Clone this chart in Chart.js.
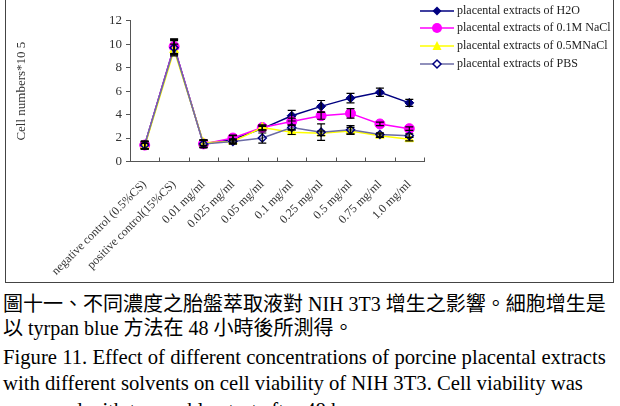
<!DOCTYPE html>
<html lang="zh-TW">
<head>
<meta charset="UTF-8">
<title>Figure 11</title>
<script src="https://cdn.jsdelivr.net/npm/chart.js"></script>
<style>
  body { margin:0; background:#fff; width:620px; height:406px; overflow:hidden; position:relative;
         font-family:"Liberation Serif", "Noto Sans CJK TC", serif; }
  .frame { position:absolute; left:5px; top:-2px; width:609px; height:285px; box-sizing:border-box;
           border:1.5px solid #444; }
  #chartBox { position:absolute; left:6px; top:0; }
  .legend { position:absolute; left:420px; top:0; font-size:12px; color:#222; }
  .legend div { position:absolute; left:0; white-space:nowrap; height:16px; line-height:16px; }
  .legend svg { vertical-align:middle; margin-right:3px; }
  .cap { position:absolute; left:3px; white-space:nowrap; color:#000; }
  .zh { font-size:20px; line-height:24px; }
  .zh span { font-family:"Liberation Serif", serif; }
  .en { font-size:20.7px; line-height:26.5px; top:343.75px; }
</style>
</head>
<body>

<div class="frame"></div>
<div id="chartBox"><canvas id="cellChart" width="606" height="282"></canvas></div>

<div class="legend" lang="en">
  <div style="top:2px"><svg width="34" height="12"><line x1="0" y1="6" x2="34" y2="6" stroke="#000080" stroke-width="1.5"/><polygon points="17,1.5 21.5,6 17,10.5 12.5,6" fill="#000080"/></svg>placental extracts of H2O</div>
  <div style="top:19px"><svg width="34" height="12"><line x1="0" y1="6" x2="34" y2="6" stroke="#FF00FF" stroke-width="1.5"/><circle cx="17" cy="6" r="5" fill="#FF00FF"/></svg>placental extracts of 0.1M NaCl</div>
  <div style="top:37px"><svg width="34" height="12"><line x1="0" y1="6" x2="34" y2="6" stroke="#FFFF00" stroke-width="1.5"/><polygon points="17,1 21.5,10 12.5,10" fill="#FFFF00"/></svg>placental extracts of 0.5MNaCl</div>
  <div style="top:55px"><svg width="34" height="12"><line x1="0" y1="6" x2="34" y2="6" stroke="#6B6BA5" stroke-width="1.5"/><polygon points="17,2 21,6 17,10 13,6" fill="#fff" stroke="#000080" stroke-width="1.5"/></svg>placental extracts of PBS</div>
</div>

<div class="cap zh" style="top:292px">圖十一、不同濃度之胎盤萃取液對<span lang="en"> NIH 3T3 </span>增生之影響。細胞增生是</div>
<div class="cap zh" style="top:316px">以<span lang="en"> tyrpan blue </span>方法在<span lang="en"> 48 </span>小時後所測得。</div>
<div class="cap en" lang="en">Figure 11. Effect of different concentrations of porcine placental extracts<br>with different solvents on cell viability of NIH 3T3. Cell viability was<br>measured with tyrpan blue test after 48 hr.</div>

<script>
    const categories = ['negative control (0.5%CS)', 'positive control(15%CS)', '0.01 mg/ml', '0.025 mg/ml',
                        '0.05 mg/ml', '0.1 mg/ml', '0.25 mg/ml', '0.5 mg/ml', '0.75 mg/ml', '1.0 mg/ml'];

    const h2o       = [1.4, 9.8, 1.5, 1.9, 2.8, 3.9, 4.7, 5.4, 5.9, 5.0];
    const h2oErr    = [0.35, 0.65, 0.35, 0.3, 0.2, 0.45, 0.5, 0.4, 0.35, 0.3];
    const nacl01    = [1.4, 9.8, 1.5, 2.0, 2.9, 3.4, 3.9, 4.1, 3.2, 2.8];
    const nacl01Err = [0.3, 0.6, 0.3, 0.25, 0.2, 0.3, 0.3, 0.4, 0.15, 0.15];
    const nacl05    = [1.3, 9.5, 1.6, 1.7, 2.9, 2.5, 2.4, 2.6, 2.2, 1.9];
    const nacl05Err = [0.25, 0.5, 0.25, 0.2, 0.2, 0.2, 0.2, 0.3, 0.15, 0.15];
    const pbs       = [1.4, 9.7, 1.5, 1.7, 2.0, 2.9, 2.5, 2.7, 2.3, 2.2];
    const pbsErr    = [0.3, 0.6, 0.3, 0.2, 0.43, 0.2, 0.7, 0.35, 0.15, 0.15];

    const yTicks = [0, 2, 4, 6, 8, 10, 12];

    // error bars + inward x ticks
    const extras = {
        id: 'extras',
        afterDatasetsDraw(chart) {
            const ctx = chart.ctx, y = chart.scales.y;
            ctx.save();
            ctx.strokeStyle = '#000';
            ctx.lineWidth = 1.2;
            chart.data.datasets.forEach((ds, i) => {
                chart.getDatasetMeta(i).data.forEach((pt, j) => {
                    const top = y.getPixelForValue(ds.data[j] + ds.errors[j]);
                    const bot = y.getPixelForValue(ds.data[j] - ds.errors[j]);
                    ctx.beginPath();
                    ctx.moveTo(pt.x, top); ctx.lineTo(pt.x, bot);
                    ctx.moveTo(pt.x - 4, top); ctx.lineTo(pt.x + 4, top);
                    ctx.moveTo(pt.x - 4, bot); ctx.lineTo(pt.x + 4, bot);
                    ctx.stroke();
                });
            });
            ctx.restore();
        },
        afterDraw(chart) {
            const ctx = chart.ctx, x = chart.scales.x, b = chart.chartArea.bottom;
            ctx.save();
            ctx.strokeStyle = '#555';
            ctx.lineWidth = 1;
            for (let i = 1; i <= categories.length; i++) {
                const px = Math.round(x.getPixelForValue(i - 0.5)) + 0.5;
                ctx.beginPath(); ctx.moveTo(px, b); ctx.lineTo(px, b - 4); ctx.stroke();
            }
            ctx.restore();
        }
    };

    const serif = 'Liberation Serif';

    new Chart(document.getElementById('cellChart'), {
        type: 'line',
        data: {
            labels: categories,
            datasets: [
                { label: 'placental extracts of H2O', data: h2o, errors: h2oErr, order: 4,
                  borderColor: '#000080', backgroundColor: '#000080', borderWidth: 1.5,
                  pointStyle: 'rectRot', pointRadius: 4.5, pointBorderWidth: 1 },
                { label: 'placental extracts of 0.1M NaCl', data: nacl01, errors: nacl01Err, order: 3,
                  borderColor: '#FF00FF', backgroundColor: '#FF00FF', borderWidth: 1.5,
                  pointStyle: 'circle', pointRadius: 5, pointBorderWidth: 1 },
                { label: 'placental extracts of 0.5MNaCl', data: nacl05, errors: nacl05Err, order: 2,
                  borderColor: '#FFFF00', backgroundColor: '#FFFF00', borderWidth: 1.5,
                  pointStyle: 'triangle', pointRadius: 5, pointBorderWidth: 1 },
                { label: 'placental extracts of PBS', data: pbs, errors: pbsErr, order: 1,
                  borderColor: '#6B6BA5', backgroundColor: 'rgba(0,0,0,0)', borderWidth: 1.5,
                  pointStyle: 'rectRot', pointRadius: 4, pointBorderColor: '#000080',
                  pointBackgroundColor: 'rgba(0,0,0,0)', pointBorderWidth: 1.5 }
            ]
        },
        options: {
            responsive: false,
            devicePixelRatio: 1,
            animation: false,
            layout: { padding: { top: 20.7, right: 188, left: 0, bottom: 0 } },
            plugins: { legend: { display: false }, tooltip: { enabled: false } },
            scales: {
                x: {
                    offset: true,
                    grid: { display: false },
                    border: { display: true, color: '#555', width: 1 },
                    afterFit: s => { s.height = 120.5; },
                    ticks: {
                        autoSkip: false, minRotation: 45, maxRotation: 45, padding: 8,
                        color: '#333', font: { family: serif, size: 12 }
                    }
                },
                y: {
                    min: 0, max: 12,
                    afterFit: s => { s.width = 124; },
                    afterBuildTicks: s => { s.ticks = yTicks.map(v => ({ value: v })); },
                    grid: { display: true, drawOnChartArea: false, drawTicks: true, tickLength: 4, color: '#555' },
                    border: { display: true, color: '#555', width: 1 },
                    ticks: { padding: 4, color: '#333', font: { family: serif, size: 13 } },
                    title: {
                        display: true, text: 'Cell numbers*10 5', color: '#333',
                        font: { family: serif, size: 13 }, padding: { top: 8, bottom: 0 }
                    }
                }
            }
        },
        plugins: [extras]
    });
</script>

</body>
</html>
